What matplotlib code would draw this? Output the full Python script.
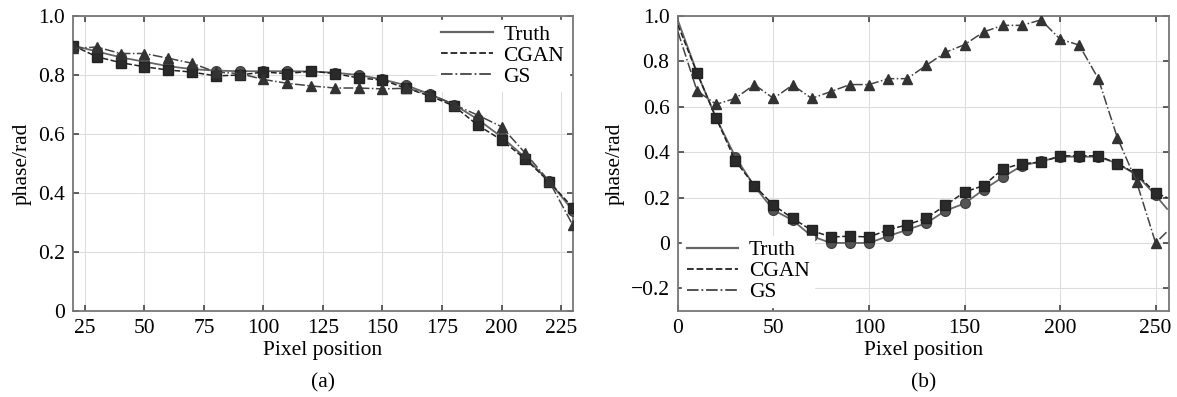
import numpy as np
import matplotlib
matplotlib.use('Agg')
import matplotlib.pyplot as plt
from matplotlib.ticker import FuncFormatter

plt.rcParams['font.family'] = ['Liberation Serif', 'DejaVu Serif']
plt.rcParams['font.size'] = 15.5
plt.rcParams['axes.unicode_minus'] = True

# panel (a): marker positions every 10 pixels
x_a = [20, 30, 40, 50, 60, 70, 80, 90, 100, 110, 120, 130, 140, 150, 160,
       170, 180, 190, 200, 210, 220, 230]
truth_a = [0.900, 0.880, 0.860, 0.845, 0.830, 0.820, 0.815, 0.813, 0.813, 0.813, 0.812,
           0.808, 0.800, 0.785, 0.765, 0.735, 0.700, 0.650, 0.590, 0.520, 0.440, 0.340]
cgan_a = [0.900, 0.862, 0.842, 0.828, 0.817, 0.810, 0.797, 0.800, 0.810, 0.805, 0.813,
          0.805, 0.790, 0.783, 0.755, 0.729, 0.695, 0.630, 0.580, 0.515, 0.438, 0.350]
gs_a = [0.890, 0.895, 0.873, 0.873, 0.857, 0.840, 0.810, 0.805, 0.785, 0.772, 0.763,
        0.756, 0.756, 0.753, 0.755, 0.735, 0.700, 0.664, 0.625, 0.535, 0.440, 0.290]

# panel (b): line ends at 0 and 256, markers every 10 pixels in between
x_b = [0, 10, 20, 30, 40, 50, 60, 70, 80, 90, 100, 110, 120, 130, 140, 150, 160,
       170, 180, 190, 200, 210, 220, 230, 240, 250, 256]
truth_b = [0.98, 0.75, 0.55, 0.38, 0.25, 0.145, 0.10, 0.03, 0.0, 0.0, 0.0, 0.03, 0.058,
           0.087, 0.142, 0.174, 0.235, 0.29, 0.34, 0.36, 0.38, 0.38, 0.38, 0.35, 0.30,
           0.21, 0.15]
cgan_b = [0.96, 0.749, 0.55, 0.362, 0.253, 0.166, 0.109, 0.055, 0.026, 0.03, 0.026, 0.058,
          0.08, 0.109, 0.166, 0.224, 0.253, 0.326, 0.35, 0.355, 0.384, 0.384, 0.384, 0.35,
          0.304, 0.22, 0.20]
gs_b = [0.93, 0.67, 0.611, 0.637, 0.698, 0.637, 0.696, 0.637, 0.667, 0.698, 0.698, 0.724,
        0.724, 0.783, 0.84, 0.874, 0.93, 0.959, 0.959, 0.983, 0.898, 0.872, 0.724, 0.463,
        0.27, 0.0, 0.05]

labels = ['Truth', 'CGAN', 'GS']
fs = 15.5


def fmt_tick(v, pos):
    if abs(v) < 1e-9:
        return '0'
    return '{:.1f}'.format(v).replace('-', '\u2212')


def style_axes(ax):
    ax.grid(True, color='#dddddd', linewidth=0.8)
    ax.set_axisbelow(True)
    ax.tick_params(direction='in', top=True, right=True, length=4, width=1.2,
                   color='#444444', labelsize=fs, pad=6)
    for sp in ax.spines.values():
        sp.set_color('#777777')
        sp.set_linewidth(1.3)
    ax.yaxis.set_major_formatter(FuncFormatter(fmt_tick))
    ax.set_xlabel('Pixel position', fontsize=fs, labelpad=2)
    ax.set_ylabel('phase/rad', fontsize=fs, labelpad=4)


def draw_lines(ax, x, truth, cgan, gs, every):
    ax.plot(x, truth, '-', color='#666666', linewidth=1.3, marker='o', markersize=7,
            markerfacecolor='#555555', markeredgecolor='#444444', markevery=every,
            label=labels[0], zorder=3)
    ax.plot(x, cgan, '--', color='#222222', linewidth=1.1, marker='s', markersize=7,
            markerfacecolor='#2a2a2a', markeredgecolor='#222222', markevery=every,
            label=labels[1], zorder=4)
    ax.plot(x, gs, '-.', color='#444444', linewidth=1.1, marker='^', markersize=7,
            markerfacecolor='#333333', markeredgecolor='#333333', markevery=every,
            label=labels[2], zorder=4)


fig = plt.figure(figsize=(11.77, 3.97), dpi=100)
ax1 = fig.add_axes([0.062, 0.2166, 0.4248, 0.743])
ax2 = fig.add_axes([0.576, 0.2166, 0.4172, 0.743])

draw_lines(ax1, x_a, truth_a, cgan_a, gs_a, None)
ax1.set_xlim(20, 230)
ax1.set_ylim(0, 1.0)
ax1.set_xticks(np.arange(25, 230, 25))
ax1.set_yticks(np.arange(0, 1.01, 0.2))
style_axes(ax1)

draw_lines(ax2, x_b, truth_b, cgan_b, gs_b, slice(1, -1))
ax2.set_xlim(0, 257)
ax2.set_ylim(-0.3, 1.0)
ax2.set_xticks(np.arange(0, 251, 50))
ax2.set_yticks(np.arange(-0.2, 1.01, 0.2))
style_axes(ax2)

handles = [plt.Line2D([], [], color='#666666', linestyle='-', linewidth=1.6),
           plt.Line2D([], [], color='#222222', linestyle='--', linewidth=1.3),
           plt.Line2D([], [], color='#444444', linestyle='-.', linewidth=1.3)]
for ax, loc in [(ax1, 'upper right'), (ax2, 'lower left')]:
    leg = ax.legend(handles, labels, loc=loc, fontsize=fs, frameon=True, fancybox=False,
                    framealpha=1, edgecolor='white', facecolor='white', handlelength=2.4,
                    handletextpad=0.5, labelspacing=0.05, borderpad=0.2, borderaxespad=0.2)

fig.text(0.062 + 0.4248 / 2, 0.012, '(a)', ha='center', va='bottom', fontsize=fs)
fig.text(0.576 + 0.4172 / 2, 0.012, '(b)', ha='center', va='bottom', fontsize=fs)

fig.savefig('out.png', dpi=100)
